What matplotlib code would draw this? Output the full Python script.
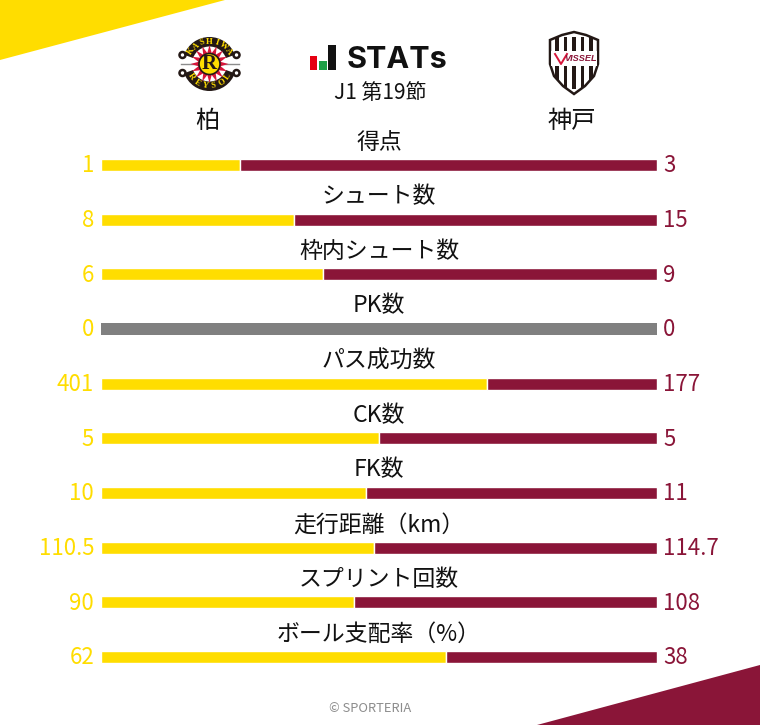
import numpy as np
import matplotlib
matplotlib.use('Agg')
import matplotlib.pyplot as plt
from matplotlib.patches import Polygon, Circle, Rectangle, Wedge

plt.rcParams['font.family'] = ['Noto Sans CJK JP', 'DejaVu Sans']

categories = ['得点', 'シュート数', '枠内シュート数', 'PK数', 'パス成功数', 'CK数', 'FK数',
              '走行距離（km）', 'スプリント回数', 'ボール支配率（%）']
home_values = [1, 8, 6, 0, 401, 5, 10, 110.5, 90, 62]
away_values = [3, 15, 9, 0, 177, 5, 11, 114.7, 108, 38]
home_name = '柏'
away_name = '神戸'
subtitle = 'J1 第19節'

YELLOW = '#FFDD00'
MAROON = '#8A1538'
GREY = '#808080'
W, H = 760, 725

fig = plt.figure(figsize=(W / 100, H / 100), dpi=100, facecolor='white')

# overlay in pixel coords for the header and corner shapes
bg = fig.add_axes([0, 0, 1, 1])
bg.set_xlim(0, W)
bg.set_ylim(H, 0)
bg.axis('off')
bg.add_patch(Polygon([(0, 0), (225, 0), (0, 60)], color=YELLOW, lw=0))
bg.add_patch(Polygon([(760, 665), (760, 725), (537, 725)], color=MAROON, lw=0))


def draw_reysol(ax, cx, cy):
    dark = '#231815'
    # side ornaments
    for sx in (-1, 1):
        for sy in (-1, 1):
            ax.add_patch(Circle((cx + sx * 27, cy + sy * 9), 3, fc='white', ec=dark, lw=1.8, zorder=2))
        ax.plot([cx + sx * 12, cx + sx * 29], [cy, cy], color='#8c8c8c', lw=1.0, zorder=2)
    ax.add_patch(Wedge((cx, cy), 27, 20, 160, width=9.5, fc=dark, lw=0, zorder=3))
    ax.add_patch(Wedge((cx, cy), 27, 200, 340, width=9.5, fc=dark, lw=0, zorder=3))
    # sun rays
    angles = np.linspace(0, 2 * np.pi, 16, endpoint=False)
    for a in angles:
        tip = (cx + 19 * np.cos(a), cy + 19 * np.sin(a))
        l = (cx + 10 * np.cos(a - 0.26), cy + 10 * np.sin(a - 0.26))
        r = (cx + 10 * np.cos(a + 0.26), cy + 10 * np.sin(a + 0.26))
        ax.add_patch(Polygon([tip, l, r], color='#D7153A', lw=0, zorder=4))
    ax.add_patch(Circle((cx, cy), 10.5, fc=YELLOW, ec=dark, lw=1.2, zorder=5))
    ax.text(cx, cy, 'R', fontsize=15, fontweight='bold', family='Liberation Serif', color=dark,
            ha='center', va='center', zorder=6)
    # lettering round the ring
    for word, start, end, r, flip in (('KASHIWA', 146, 34, 22.5, False), ('REYSOL', 214, 326, 22.5, True)):
        for ch, deg in zip(word, np.linspace(start, end, len(word))):
            a = np.radians(deg)
            rot = deg - 90 if not flip else deg + 90
            ax.text(cx + r * np.cos(a), cy - r * np.sin(a), ch, fontsize=6.2, fontweight='bold',
                    family='Liberation Serif', color=YELLOW, rotation=rot, rotation_mode='anchor',
                    ha='center', va='center', zorder=7)


def draw_vissel(ax, cx, top):
    dark = '#231815'
    outline = [(-24, 9), (-12, 4), (0, 1), (12, 4), (24, 9), (24, 33), (20, 45), (11, 55), (0, 63),
               (-11, 55), (-20, 45), (-24, 33)]
    pts = [(cx + x, top + y) for x, y in outline]
    shield = Polygon(pts, fc='white', ec=dark, lw=1.8, zorder=2)
    ax.add_patch(shield)
    for dx in (-17, -8.5, 0, 8.5, 17):
        stripe = Rectangle((cx + dx - 1.7, top + 6), 3.4, 52, fc=dark, lw=0, zorder=3)
        ax.add_patch(stripe)
        stripe.set_clip_path(shield)
    ax.add_patch(Rectangle((cx - 23, top + 20), 46, 15, fc='white', lw=0, zorder=4))
    ax.plot([cx - 19, cx - 13, cx - 7], [top + 23, top + 33, top + 23], color='#D7153A', lw=1.4, zorder=5)
    ax.text(cx + 7, top + 27.5, 'VISSEL', fontsize=6.6, fontweight='bold', fontstyle='italic',
            family='Liberation Sans', color=MAROON, ha='center', va='center', zorder=5)


draw_reysol(bg, 209.5, 64)
draw_vissel(bg, 574, 31)

# STATs logo
bg.add_patch(Rectangle((310, 56), 7, 14, fc='#E60012', lw=0))
bg.add_patch(Rectangle((319, 61), 8, 9, fc='#1E9E46', lw=0))
bg.add_patch(Rectangle((328, 45), 8, 25, fc='#111111', lw=0))
bg.text(347, 60, 'STATs', fontsize=22, fontweight='bold', family='Inter', color='#111111',
        ha='left', va='center')
bg.text(380, 92.5, subtitle, fontsize=15, color='#111111', ha='center', va='center')
bg.text(207, 120.5, home_name, fontsize=17.5, color='#111111', ha='center', va='center')
bg.text(572, 120.5, away_name, fontsize=17.5, color='#111111', ha='center', va='center')
bg.text(370, 709, '© SPORTERIA', fontsize=9.3, color='#8c8c8c', ha='center', va='center')

# bars, one row per stat, as share of the row total
row_step = 54.67
ax = fig.add_axes([101 / W, 1 - (657 + row_step / 2) / H, 556 / W, (492 + row_step) / H])
ax.patch.set_alpha(0)
ax.set_xlim(0, 1)
ax.set_ylim(len(categories) - 0.5, -0.5)
ax.axis('off')

bar_h = 12 / row_step
for i, (cat, hv, av) in enumerate(zip(categories, home_values, away_values)):
    total = hv + av
    if total == 0:
        ax.barh(i, 1, height=bar_h, color=GREY, lw=0)
    else:
        share = hv / total
        ax.barh(i, share, height=bar_h, color=YELLOW, edgecolor='white', lw=1.0)
        ax.barh(i, 1 - share, left=share, height=bar_h, color=MAROON, edgecolor='white', lw=1.0)
    ax.annotate(cat, (0.5, i), xytext=(0, 16.5), textcoords='offset points', fontsize=16.5,
                color='#111111', ha='center', va='center')
    ax.annotate(f'{hv:g}', (0, i), xytext=(-5, -0.5), textcoords='offset points', fontsize=16,
                color=YELLOW, ha='right', va='center')
    ax.annotate(f'{av:g}', (1, i), xytext=(4.5, -0.5), textcoords='offset points', fontsize=16,
                color=MAROON, ha='left', va='center')

fig.savefig('out.png', dpi=100)
